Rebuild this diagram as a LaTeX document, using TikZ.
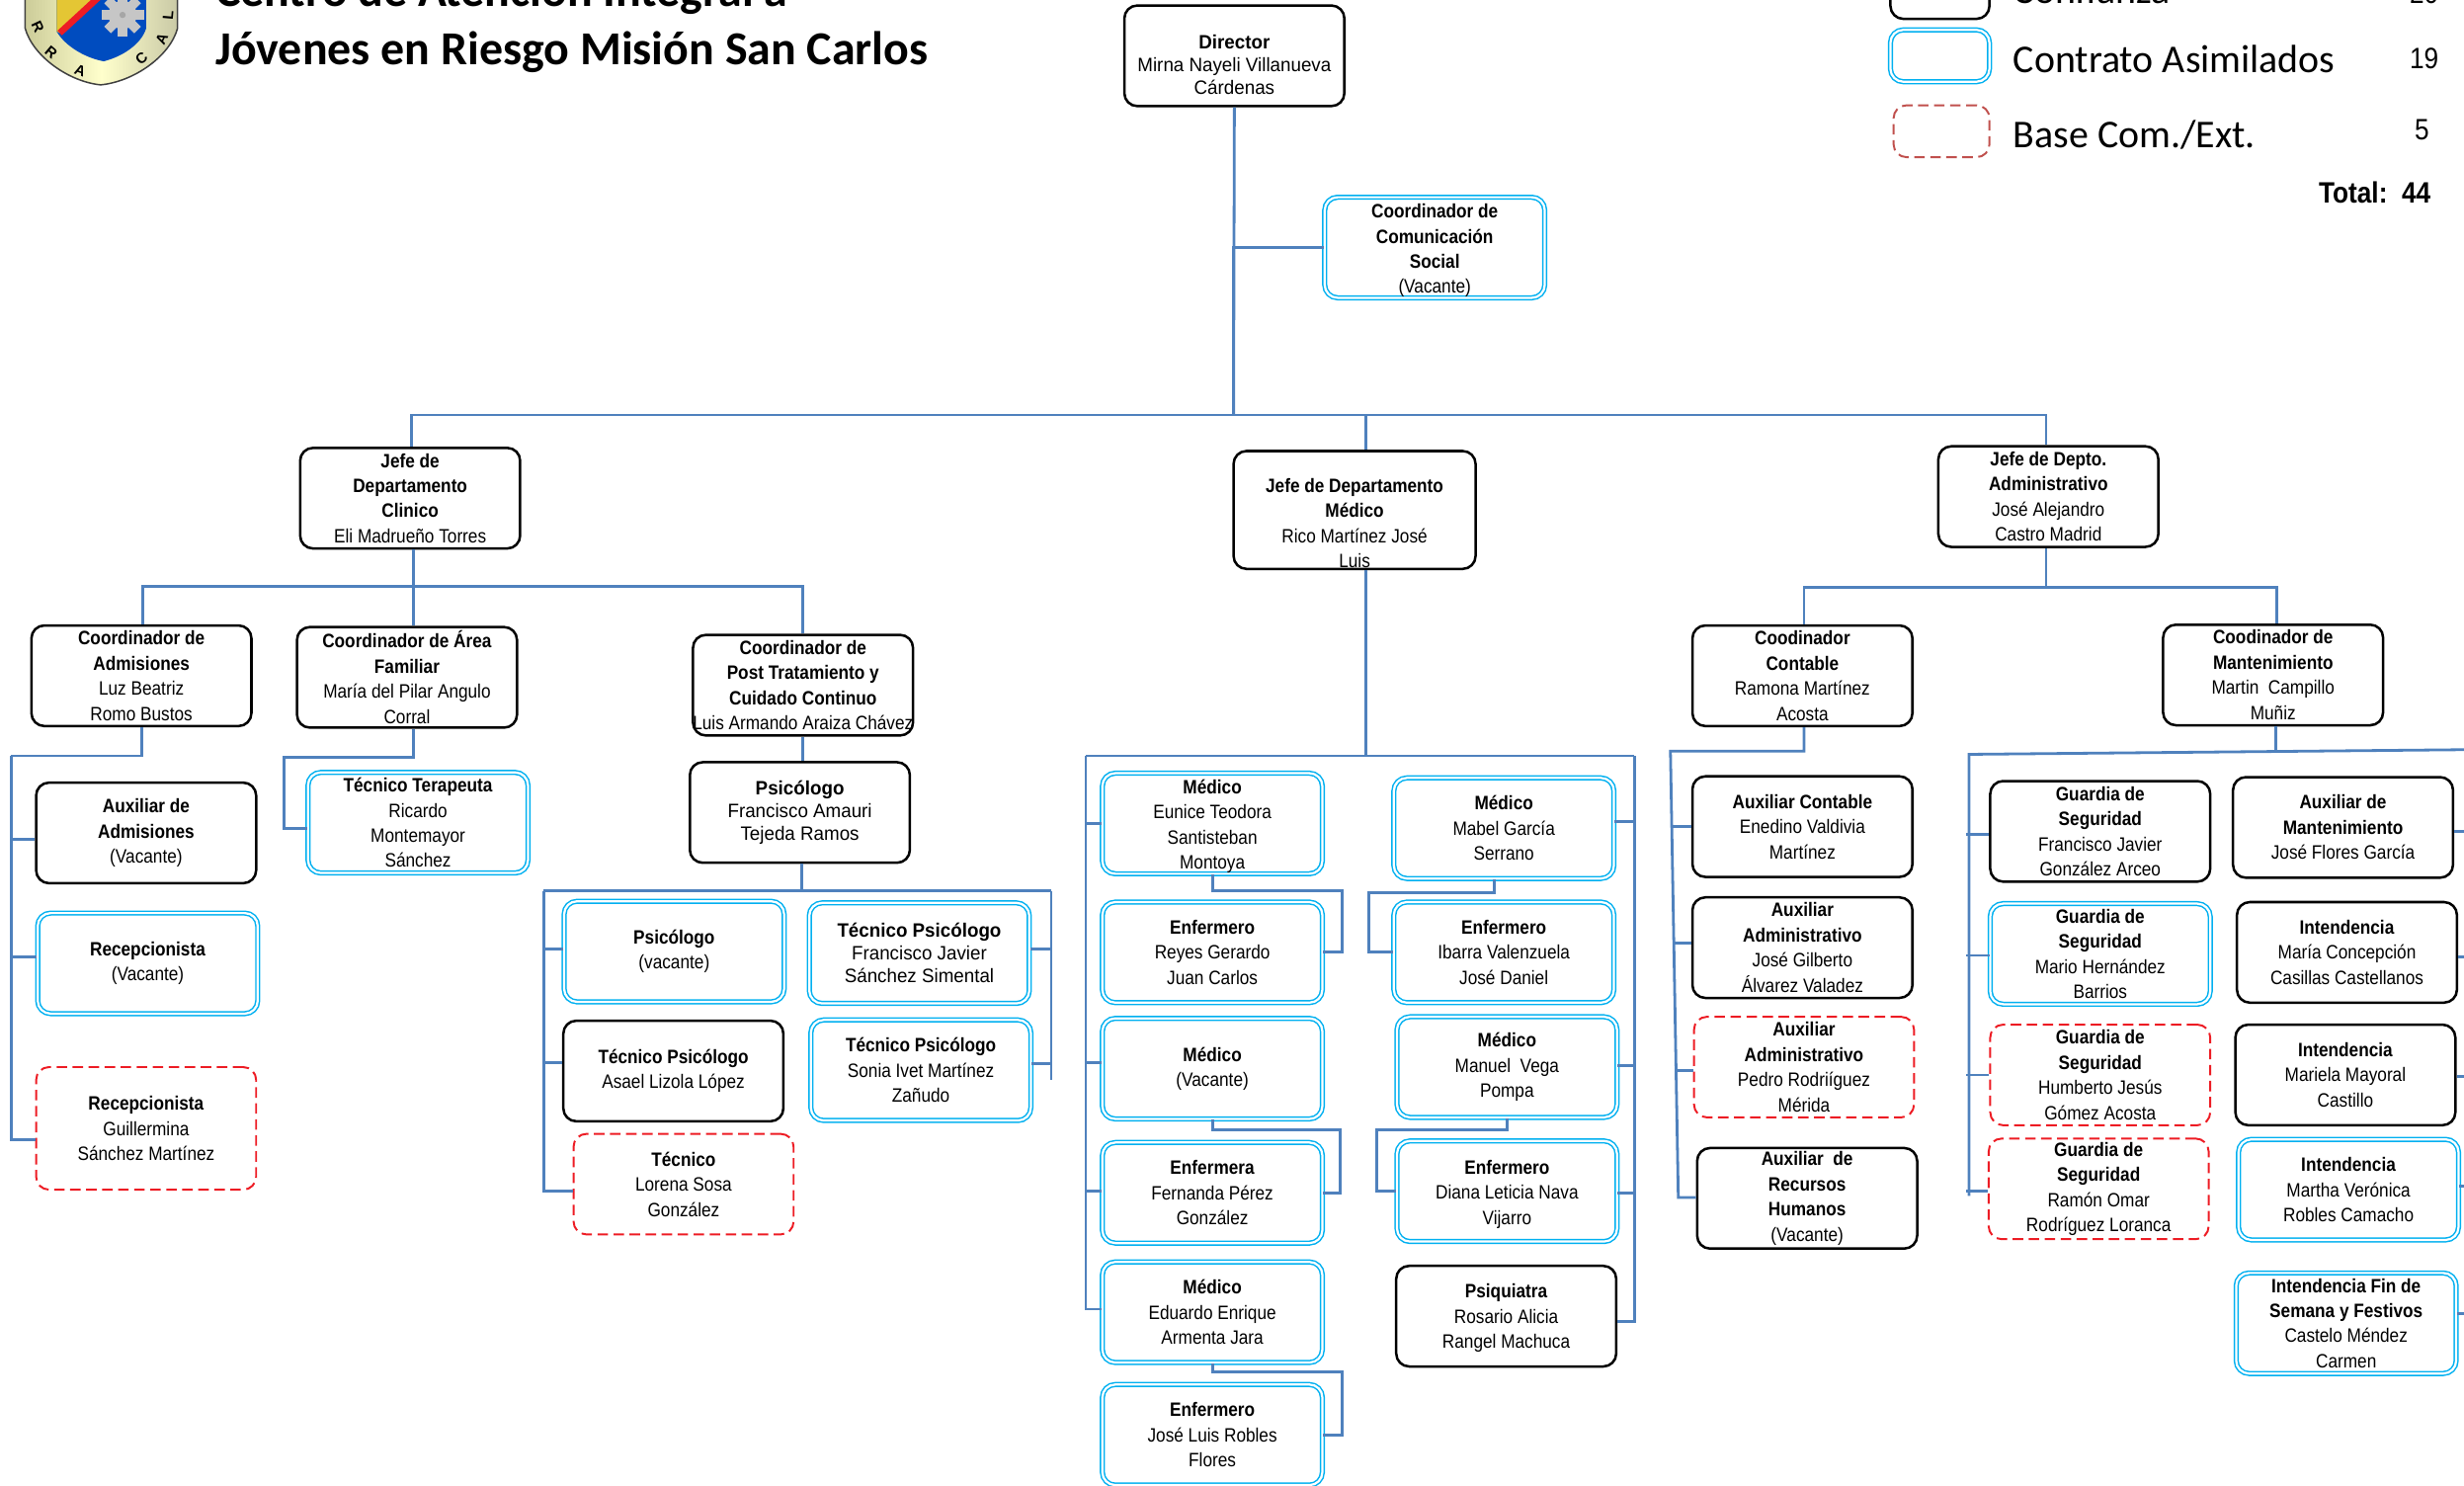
\documentclass[tikz,border=0pt]{standalone}
\usepackage{fontspec}
\setmainfont{Liberation Sans}
\newfontfamily\angosta[FakeStretch=0.88]{Liberation Sans}
\newfontfamily\ancha[FakeStretch=0.96]{Liberation Sans}
\newfontfamily\calibri{Carlito}
\definecolor{azul}{HTML}{4F81BD}
\definecolor{celeste}{HTML}{00B0F0}
\definecolor{rojo}{HTML}{ED1C24}
\definecolor{rojomate}{HTML}{C0504D}
\tikzset{
  puesto/.style={rounded corners=7pt, minimum width=4.2cm, minimum height=1.92cm, inner sep=0pt, align=center,
    font=\angosta\fontsize{10.5}{13.66}\selectfont, execute at begin node={\rule{0pt}{9pt}}},
  conf/.style={puesto, draw=black, line width=1.35pt},
  asim/.style={puesto, draw=celeste, line width=.8pt, double, double distance=1.2pt},
  basec/.style={puesto, draw=rojo, line width=1.05pt, dash pattern=on 5.7pt off 3pt},
  grande/.style={font=\ancha\fontsize{10.5}{12.4}\selectfont},
  enlace/.style={draw=azul, line width=1.5pt},
  titulo/.style={anchor=base west, inner sep=0pt, font=\calibri\bfseries\fontsize{25.7}{30}\selectfont},
  leyenda/.style={anchor=base west, inner sep=0pt, font=\calibri\fontsize{21.4}{26}\selectfont},
  cifra/.style={anchor=base east, inner sep=0pt, font=\angosta\fontsize{16}{19}\selectfont},
  letra/.style={inner sep=0pt, font=\bfseries\fontsize{8}{9}\selectfont}
}
\begin{document}
\begin{tikzpicture}[x=.03cm, y=-.03cm]
  \clip (0,0) rectangle (1568,945);
  % escudo
  \shade[left color=black!50!yellow!40!white, right color=black!60!yellow!35!white, middle color=white!80!yellow, draw=black!75, line width=.8pt]
    (16,-25) -- (113,-25) -- (113,18) .. controls (108,36) and (85,52) .. (64,54) .. controls (44,52) and (21,36) .. (16,18) -- cycle;
  \fill[blue!60!cyan!75!black] (36,-25) -- (93,-25) -- (93,18) .. controls (90,28) and (78,36) .. (66,39) .. controls (55,37) and (42,30) .. (36,20) -- cycle;
  \fill[yellow!55!brown] (36,-25) -- (88,-25) -- (38,21) -- (36,20) -- cycle;
  \draw[rojo, line width=3.5pt] (38,21) -- (63,-2);
  \fill[gray!45] (78,9.5) circle (9);
  \foreach \a in {0,45,...,315}{
    \fill[gray!45, rotate around={\a:(78,9.5)}] (75,-4) rectangle (81,4);
  }
  \fill[gray!70] (78,9.5) circle (2);
  \node[letra, rotate=-65] (l1) at (24,17) {R};
  \node[letra, rotate=-40] (l2) at (32.5,33.5) {R};
  \node[letra, rotate=-20] (l3) at (51,45) {A};
  \node[letra, rotate=40] (l4) at (90,37) {C};
  \node[letra, rotate=65] (l5) at (103,25) {A};
  \node[letra, rotate=85] (l6) at (107,9.5) {L};

  \node[titulo] (tit1) at (137,4) {Centro de Atención Integral a};
  \node[titulo] (tit2) at (137,41) {Jóvenes en Riesgo Misión San Carlos};

  % leyenda
  \node[conf, minimum width=1.89cm, minimum height=.99cm] (lconf) at (1234.5,-4.5) {};
  \node[asim, minimum width=1.89cm, minimum height=.99cm] (lasim) at (1234.5,35.5) {};
  \node[basec, draw=rojomate, minimum width=1.83cm, minimum height=.99cm] (lbase) at (1235.5,83.5) {};
  \node[leyenda] (tconf) at (1281,2.5) {Confianza};
  \node[leyenda] (tasim) at (1281,46) {Contrato Asimilados};
  \node[leyenda] (tbase) at (1281,94) {Base Com./Ext.};
  \node[cifra] (nconf) at (1552,2) {20};
  \node[cifra] (nasim) at (1552,43.5) {19};
  \node[cifra] (nbase) at (1546,89) {5};
  \node[cifra] (total) at (1547,129) {\textbf{Total:\ \ 44}};

  % direccion
  \node[conf, grande] (dir) at (785.5,35.5) {\rule{0pt}{17pt}\textbf{Director}\\Mirna Nayeli Villanueva\\Cárdenas};
  \node[asim] (com) at (913,157.5) {\rule{0pt}{11pt}\textbf{Coordinador de}\\\textbf{Comunicación}\\\textbf{Social}\\(Vacante)};
  \node[conf] (jclin) at (261,317) {\textbf{Jefe de}\\\textbf{Departamento}\\\textbf{Clinico}\\Eli Madrueño Torres};
  \node[conf, minimum width=4.62cm, minimum height=2.25cm] (jmed) at (862,324.5) {\rule{0pt}{22pt}\textbf{Jefe de Departamento}\\\textbf{Médico}\\Rico Martínez José\\Luis};
  \node[conf] (jadm) at (1303.5,316) {\textbf{Jefe de Depto.}\\\textbf{Administrativo}\\José Alejandro\\Castro Madrid};

  % area clinica
  \node[conf] (cadm) at (90,430) {\textbf{Coordinador de}\\\textbf{Admisiones}\\Luz Beatriz\\Romo Bustos};
  \node[conf] (cfam) at (259,431) {\textbf{Coordinador de Área}\\\textbf{Familiar}\\María del Pilar Angulo\\Corral};
  \node[conf] (cpost) at (511,436) {\textbf{Coordinador de}\\\textbf{Post Tratamiento y}\\\textbf{Cuidado Continuo}\\\clap{Luis Armando Araiza Chávez}};
  \node[conf] (aaux) at (93,530) {\textbf{Auxiliar de}\\\textbf{Admisiones}\\(Vacante)};
  \node[asim] (rec1) at (94,613) {\textbf{Recepcionista}\\(Vacante)};
  \node[basec, minimum height=2.34cm] (rec2) at (93,718) {\textbf{Recepcionista}\\Guillermina\\Sánchez Martínez};
  \node[asim] (tter) at (266,523.5) {\textbf{Técnico Terapeuta}\\Ricardo\\Montemayor\\Sánchez};
  \node[conf, grande] (psi) at (509,517) {\textbf{Psicólogo}\\Francisco Amauri\\Tejeda Ramos};
  \node[asim] (psiv) at (429,605.5) {\textbf{Psicólogo}\\(vacante)};
  \node[asim, grande] (tpf) at (585,606.5) {\textbf{Técnico Psicólogo}\\Francisco Javier\\Sánchez Simental};
  \node[conf] (tpa) at (428.5,681.5) {\textbf{Técnico Psicólogo}\\Asael Lizola López};
  \node[asim] (tps) at (586,681) {\textbf{Técnico Psicólogo}\\Sonia Ivet Martínez\\Zañudo};
  \node[basec] (tlo) at (435,753.5) {\textbf{Técnico}\\Lorena Sosa\\González};

  % area medica
  \node[asim] (meu) at (771.5,524) {\rule{0pt}{11pt}\textbf{Médico}\\Eunice Teodora\\Santisteban\\Montoya};
  \node[asim] (eny) at (771.5,606) {\textbf{Enfermero}\\Reyes Gerardo\\Juan Carlos};
  \node[asim] (mva) at (771.5,680) {\textbf{Médico}\\(Vacante)};
  \node[asim] (enf) at (771.5,759) {\textbf{Enfermera}\\Fernanda Pérez\\González};
  \node[asim] (mar) at (771.5,835) {\textbf{Médico}\\Eduardo Enrique\\Armenta Jara};
  \node[asim] (enr) at (771.5,913) {\textbf{Enfermero}\\José Luis Robles\\Flores};
  \node[asim] (mma) at (957,527) {\textbf{Médico}\\Mabel García\\Serrano};
  \node[asim] (eni) at (957,606) {\textbf{Enfermero}\\Ibarra Valenzuela\\José Daniel};
  \node[asim] (mmv) at (959,679) {\textbf{Médico}\\Manuel~ Vega\\Pompa};
  \node[asim] (end) at (959,758) {\rule{0pt}{11pt}\textbf{Enfermero}\\Diana Leticia Nava\\Vijarro};
  \node[conf] (psq) at (958.5,837.5) {\rule{0pt}{10pt}\textbf{Psiquiatra}\\Rosario Alicia\\Rangel Machuca};

  % area administrativa
  \node[conf] (ccon) at (1147,430) {\textbf{Coodinador}\\\textbf{Contable}\\Ramona Martínez\\Acosta};
  \node[conf] (cman) at (1446.5,429.5) {\textbf{Coodinador de}\\\textbf{Mantenimiento}\\Martin~ Campillo\\Muñiz};
  \node[conf] (acon) at (1147,526) {\textbf{Auxiliar Contable}\\Enedino Valdivia\\Martínez};
  \node[conf] (aad1) at (1147,603) {\textbf{Auxiliar}\\\textbf{Administrativo}\\José Gilberto\\Álvarez Valadez};
  \node[basec] (aad2) at (1148,679) {\textbf{Auxiliar}\\\textbf{Administrativo}\\Pedro Rodriíguez\\Mérida};
  \node[conf] (arh) at (1150,762.5) {\textbf{Auxiliar~ de}\\\textbf{Recursos}\\\textbf{Humanos}\\(Vacante)};
  \node[conf] (gsf) at (1336.5,529) {\textbf{Guardia de}\\\textbf{Seguridad}\\Francisco Javier\\González Arceo};
  \node[asim] (gsm) at (1336.5,607) {\textbf{Guardia de}\\\textbf{Seguridad}\\Mario Hernández\\Barrios};
  \node[basec] (gsh) at (1336.5,684) {\textbf{Guardia de}\\\textbf{Seguridad}\\Humberto Jesús\\Gómez Acosta};
  \node[basec] (gsr) at (1335.5,756.5) {\textbf{Guardia de}\\\textbf{Seguridad}\\Ramón Omar\\Rodríguez Loranca};
  \node[conf] (aman) at (1491,526.5) {\textbf{Auxiliar de}\\\textbf{Mantenimiento}\\José Flores García};
  \node[conf] (ima) at (1493.5,606) {\textbf{Intendencia}\\María Concepción\\Casillas Castellanos};
  \node[conf] (imv) at (1492.5,684) {\textbf{Intendencia}\\Mariela Mayoral\\Castillo};
  \node[asim] (imr) at (1494.5,757) {\textbf{Intendencia}\\Martha Verónica\\Robles Camacho};
  \node[asim] (ifs) at (1493,842) {\textbf{Intendencia Fin de}\\\textbf{Semana y Festivos}\\Castelo Méndez\\Carmen};

  % puntos de las lineas
  \coordinate (bdir) at (785,264);
  \coordinate (bcli) at (262,264);
  \coordinate (bmed) at (869,264);
  \coordinate (badm) at (1302,264);
  \coordinate (ccli) at (263,373);
  \coordinate (ccad) at (91,373);
  \coordinate (ccpo) at (511,373);
  \coordinate (tadm) at (7,481);
  \coordinate (tfam) at (181,482);
  \coordinate (cpsi) at (510,567);
  \coordinate (pizq) at (346,567);
  \coordinate (pder) at (669,567);
  \coordinate (cmed) at (869,481);
  \coordinate (mizq) at (691,481);
  \coordinate (mder) at (1040,481);
  \coordinate (cjad) at (1302,374);
  \coordinate (cjco) at (1148,374);
  \coordinate (cjma) at (1449,374);
  \coordinate (tcon) at (1063,478);
  \coordinate (tcob) at (1068,762);
  \coordinate (cgua) at (1448,478.5);
  \coordinate (gizq) at (1253,480);
  \coordinate (gder) at (1572,477);

  \draw[enlace] (dir.south) -- (bdir);
  \draw[enlace] (com.west) -| (bdir);
  \draw[enlace] (jclin.north -| bcli) -- (bcli) -- (badm) -- (jadm.north -| badm);
  \draw[enlace] (jmed.north -| bmed) -- (bmed);
  \draw[enlace] (jclin.south -| ccli) -- (cfam.north -| ccli);
  \draw[enlace] (cadm.north -| ccad) -- (ccad) -- (ccpo) -- (cpost.north -| ccpo);

  \draw[enlace] (cadm.south) |- (tadm);
  \foreach \hijo/\y in {aaux/534, rec1/609, rec2/725}{
    \draw[enlace] (\hijo.west |- 0,\y) -| (tadm);
  }
  \draw[enlace] (cfam.south -| 263,0) |- (tfam) |- (tter.west |- 0,527);
  \draw[enlace] (cpost.south -| ccpo) -- (psi.north -| ccpo);
  \draw[enlace] (psi.south -| cpsi) -- (cpsi);
  \draw[enlace] (pizq) -- (pder);
  \foreach \hijo/\y in {psiv/604, tpa/676, tlo/758}{
    \draw[enlace] (\hijo.west |- 0,\y) -| (pizq);
  }
  \draw[enlace] (pder) -- (669,687);
  \foreach \hijo/\y in {tpf/604, tps/677}{
    \draw[enlace] (\hijo.east |- 0,\y) -| (pder);
  }

  \draw[enlace] (jmed.south -| cmed) -- (cmed);
  \draw[enlace] (mizq) -- (mder);
  \foreach \hijo/\y in {meu/524, mva/676, enf/758, mar/833}{
    \draw[enlace] (\hijo.west |- 0,\y) -| (mizq);
  }
  \foreach \hijo/\y in {mma/523, mmv/678, end/759, psq/841}{
    \draw[enlace] (\hijo.east |- 0,\y) -| (mder);
  }
  % medico con su enfermero
  \draw[enlace] (meu.south) |- (854,567) |- (eny.east);
  \draw[enlace] (mva.south) |- (853,719) |- (enf.east);
  \draw[enlace] (mar.south) |- (854,873) |- (enr.east);
  \draw[enlace] (mma.south -| 951,0) |- (871,568) |- (eni.west);
  \draw[enlace] (mmv.south) |- (876,719) |- (end.west);

  \draw[enlace] (jadm.south -| cjad) -- (cjad);
  \draw[enlace] (ccon.north -| cjco) -- (cjco) -- (cjma) -- (cman.north -| cjma);
  \draw[enlace] (ccon.south -| cjco) |- (tcon) -- (tcob) -- (arh.west |- tcob);
  \draw[enlace] (acon.west |- 0,526) -- (1064.5,526);
  \draw[enlace] (aad1.west |- 0,600) -- (1065.5,600);
  \draw[enlace] (aad2.west |- 0,681) -- (1066.5,681);

  \draw[enlace] (cman.south -| cgua) -- (cgua);
  \draw[enlace] (gizq |- 0,761) -- (gizq) -- (gder);
  \foreach \hijo/\y in {gsf/531, gsm/608, gsh/684, gsr/758}{
    \draw[enlace] (\hijo.west |- 0,\y) -- (1251,\y);
  }
  \foreach \hijo/\y in {aman/529, ima/609, imv/685, imr/755, ifs/836}{
    \draw[enlace] (\hijo.east |- 0,\y) -- (1572,\y);
  }
\end{tikzpicture}
\end{document}
